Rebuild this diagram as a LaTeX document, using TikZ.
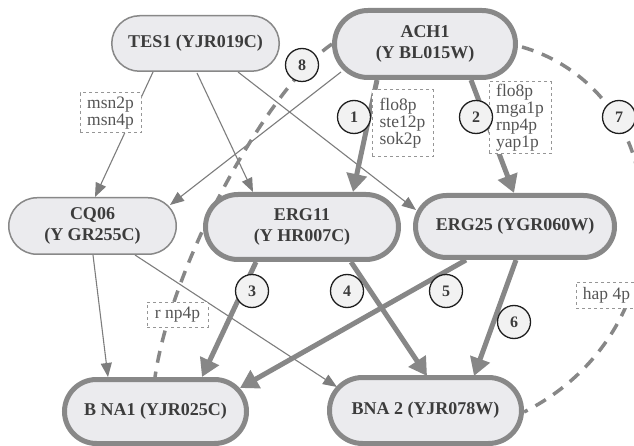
\documentclass[tikz,border=0pt]{standalone}
\usepackage{fontspec}
\setmainfont{Liberation Serif}
\usetikzlibrary{shapes.misc,arrows.meta,calc}
\pgfdeclarelayer{background}
\pgfsetlayers{background,main}
\definecolor{nfill}{RGB}{235,235,238}
\definecolor{nborder}{RGB}{136,136,136}
\definecolor{ntext}{RGB}{60,60,60}
\definecolor{edgec}{RGB}{135,135,135}
\definecolor{thinc}{RGB}{125,125,125}
\definecolor{lblc}{RGB}{150,150,150}
\definecolor{lbltext}{RGB}{85,85,85}
\definecolor{circfill}{RGB}{242,242,242}
\definecolor{circline}{RGB}{30,30,30}
\begin{document}
\begin{tikzpicture}[x=1pt,y=-1pt,
 gene/.style={rounded rectangle, fill=nfill, draw=nborder, text=ntext, font=\fontsize{18}{21}\selectfont\bfseries, align=center, inner sep=0pt},
 thickgene/.style={gene, line width=5pt},
 thingene/.style={gene, line width=1.5pt},
 numcirc/.style={circle, draw=circline, line width=1.3pt, fill=circfill, minimum size=33pt, inner sep=0pt, font=\fontsize{16}{16}\selectfont\bfseries, text=ntext},
 tfbox/.style={draw=lblc, dashed, line width=1pt, fill=white, text=lbltext, font=\fontsize{17.5}{17}\selectfont, align=left, inner sep=0pt},
 thinarrow/.style={draw=thinc, line width=1.1pt, -{Triangle[length=14pt,width=11pt]}},
 thickarrow/.style={draw=edgec, line width=5pt, -{Triangle[length=18pt,width=20pt]}},
 dashcurve/.style={draw=edgec, line width=3.5pt, dash pattern=on 12pt off 9pt}
]
\useasboundingbox (0,0) rectangle (634,446);
% genes
\node[thingene, minimum width=167.5pt, minimum height=55.5pt] (tes1) at (195.5,43.5) {TES1 (YJR019C)};
\node[thickgene, minimum width=181pt, minimum height=67pt] (ach1) at (425,44) {ACH1\\(Y BL015W)};
\node[thingene, minimum width=167.5pt, minimum height=56.5pt] (cq06) at (92.5,226) {CQ06\\(Y GR255C)};
\node[thickgene, minimum width=193pt, minimum height=65pt] (erg11) at (302,227) {ERG11\\(Y HR007C)};
\node[thickgene, minimum width=199pt, minimum height=62pt] (erg25) at (515,226.5) {ERG25 (YGR060W)};
\node[thickgene, minimum width=182pt, minimum height=64pt] (bna1) at (155.5,411.5) {B NA1 (YJR025C)};
\node[thickgene, minimum width=192pt, minimum height=66pt] (bna2) at (425.5,410.5) {BNA 2 (YJR078W)};
\coordinate (far7) at (642,200);
% edges
\begin{pgfonlayer}{background}
\begin{scope}
\clip (0,0) rectangle (634,446);
\draw[thinarrow] ($(tes1)+(-42.5,28.5)$) -- ($(cq06)+(2.5,-29)$);
\draw[thinarrow] ($(tes1)+(1.5,29.5)$) -- ($(erg11)+(-49,-35)$);
\draw[thinarrow] ($(tes1)+(42.5,28.5)$) -- ($(erg25)+(-99,-16.5)$);
\draw[thinarrow] ($(ach1)+(-84,28)$) -- ($(cq06)+(77.5,-21)$);
\draw[thinarrow] ($(cq06)+(0.5,29)$) -- ($(bna1)+(-47.5,-34.5)$);
\draw[thinarrow] ($(cq06)+(42.5,29)$) -- ($(bna2)+(-88.5,-23.5)$);
\draw[thickarrow] ($(ach1)+(-48,36)$) -- ($(erg11)+(51,-35)$);
\draw[thickarrow] ($(ach1)+(46,36)$) -- ($(erg25)+(-1,-33.5)$);
\draw[thickarrow] ($(erg11)+(-46,35)$) -- ($(bna1)+(46.5,-34.5)$);
\draw[thickarrow] ($(erg11)+(49,35)$) -- ($(bna2)+(1.5,-34.5)$);
\draw[thickarrow] ($(erg25)+(-49,33.5)$) -- ($(bna1)+(84.5,-23.5)$);
\draw[thickarrow] ($(erg25)+(1,33.5)$) -- ($(bna2)+(48.5,-34.5)$);
\draw[dashcurve] ($(ach1)+(-93,0)$) .. controls (268,88) and (172,262) .. ($(bna1)+(-0.5,-34.5)$);
\draw[dashcurve] ($(ach1)+(97,3)$) .. controls (575,62) and (635,110) .. (far7)
  .. controls (652,290) and (604,372) .. ($(bna2)+(98.5,1.5)$);
\end{scope}
\end{pgfonlayer}
% regulator labels
\node[tfbox, minimum width=61pt, minimum height=40pt] (lmsn) at (110.5,113) {msn2p\\msn4p};
\node[tfbox, minimum width=61pt, minimum height=67pt] (lone) at (402.5,123.5) {flo8p\\ste12p\\sok2p};
\node[tfbox, minimum width=62pt, minimum height=72pt] (ltwo) at (520,118) {flo8p\\mga1p\\rnp4p\\yap1p};
\node[tfbox, minimum width=61pt, minimum height=25pt] (lrnp) at (177.5,314.5) {r np4p};
\node[tfbox, minimum width=61pt, minimum height=26pt] (lhap) at (606.5,295) {hap 4p};
% numbered circles
\node[numcirc] (c1) at (354,117) {1};
\node[numcirc] (c2) at (476,117) {2};
\node[numcirc] (c3) at (252,291) {3};
\node[numcirc] (c4) at (347,291) {4};
\node[numcirc] (c5) at (446,291) {5};
\node[numcirc] (c6) at (514,322) {6};
\node[numcirc] (c7) at (619,117) {7};
\node[numcirc] (c8) at (302,65) {8};
\end{tikzpicture}
\end{document}
